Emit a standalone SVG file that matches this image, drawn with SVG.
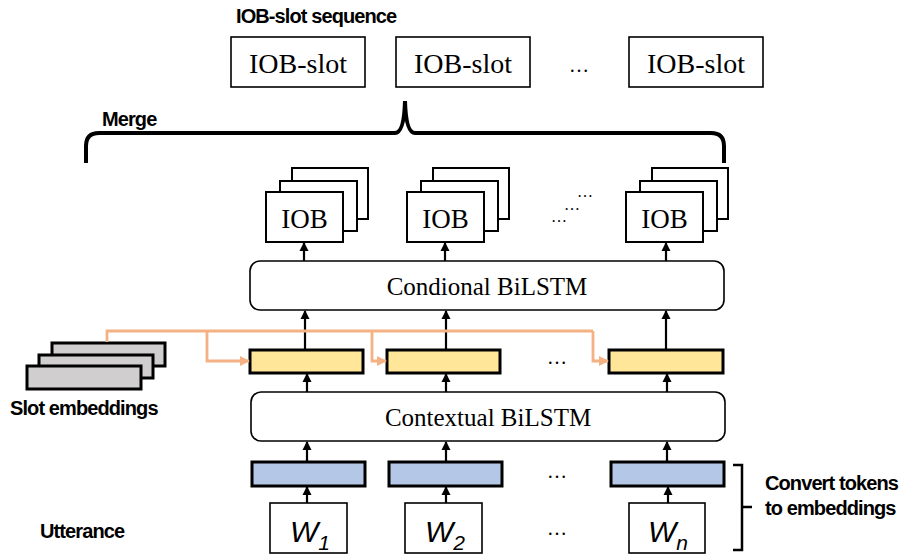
<svg xmlns="http://www.w3.org/2000/svg" width="903" height="555" viewBox="0 0 903 555">
<style>
.lbl{font-family:"Liberation Sans",Arial,sans-serif;font-weight:bold;font-size:20px;letter-spacing:-0.9px;fill:#000}
.ser{font-family:"Liberation Serif","Times New Roman",serif;fill:#000}
.box{fill:#fff;stroke:#000;stroke-width:1.6}
.stk{fill:#fff;stroke:#000;stroke-width:2}
.yel{fill:#FFE699;stroke:#000;stroke-width:3}
.blu{fill:#B4C7E7;stroke:#000;stroke-width:3}
.gry{fill:#D0CECE;stroke:#000;stroke-width:3}
.rnd{fill:#fff;stroke:#000;stroke-width:1.6}
.arr{stroke:#000;stroke-width:2.2;fill:none;marker-end:url(#ah)}
.org{stroke:#F4B183;stroke-width:2.8;fill:none}
.orga{stroke:#F4B183;stroke-width:2.8;fill:none;marker-end:url(#oh)}
.w{font-family:"Liberation Sans",Arial,sans-serif;font-style:italic;fill:#000}
</style>
<defs>
<marker id="ah" markerWidth="10" markerHeight="10" refX="8" refY="5" orient="auto" markerUnits="userSpaceOnUse">
<path d="M0,0.5 L9,5 L0,9.5 Z" fill="#000"/>
</marker>
<marker id="oh" markerWidth="10" markerHeight="12" refX="9" refY="6" orient="auto" markerUnits="userSpaceOnUse">
<path d="M0,1 L10,6 L0,11 Z" fill="#F4B183"/>
</marker>
</defs>

<text class="lbl" x="236" y="23">IOB-slot sequence</text>
<text class="lbl" x="102" y="126">Merge</text>
<text class="lbl" x="10" y="415">Slot embeddings</text>
<text class="lbl" x="40" y="538">Utterance</text>
<text class="lbl" x="765" y="490">Convert tokens</text>
<text class="lbl" x="765" y="515">to embeddings</text>

<g id="slot1"><rect class="box" x="231" y="37" width="134" height="50"/><text class="ser" x="298" y="73" font-size="28" text-anchor="middle">IOB-slot</text></g>
<g id="slot2"><rect class="box" x="396" y="37" width="134" height="50"/><text class="ser" x="463" y="73" font-size="28" text-anchor="middle">IOB-slot</text></g>
<g id="slot3"><rect class="box" x="629" y="37" width="134" height="50"/><text class="ser" x="696" y="73" font-size="28" text-anchor="middle">IOB-slot</text></g>
<text class="ser" x="579" y="72" font-size="20" text-anchor="middle">…</text>

<g id="iob1">
<rect class="stk" x="292" y="168" width="76" height="51"/>
<rect class="stk" x="280" y="181" width="77" height="50"/>
<rect class="stk" x="266" y="192" width="77" height="50"/>
<text class="ser" x="304.5" y="228" font-size="27" text-anchor="middle">IOB</text>
</g>
<g id="iob2">
<rect class="stk" x="433" y="168" width="76" height="51"/>
<rect class="stk" x="421" y="181" width="77" height="50"/>
<rect class="stk" x="407" y="192" width="77" height="50"/>
<text class="ser" x="445.5" y="228" font-size="27" text-anchor="middle">IOB</text>
</g>
<g id="iob3">
<rect class="stk" x="652" y="168" width="76" height="51"/>
<rect class="stk" x="640" y="181" width="77" height="50"/>
<rect class="stk" x="626" y="192" width="77" height="50"/>
<text class="ser" x="664.5" y="228" font-size="27" text-anchor="middle">IOB</text>
</g>
<text class="ser" x="559" y="222" font-size="16" text-anchor="middle">…</text>
<text class="ser" x="572" y="210" font-size="16" text-anchor="middle">…</text>
<text class="ser" x="585" y="197" font-size="16" text-anchor="middle">…</text>

<g id="cond"><rect class="rnd" x="250" y="261" width="474" height="49" rx="10"/><text class="ser" x="487" y="295" font-size="25" text-anchor="middle">Condional BiLSTM</text></g>

<g id="slotemb">
<rect class="gry" x="52" y="343" width="113" height="23"/>
<rect class="gry" x="39" y="355" width="114" height="23"/>
<rect class="gry" x="27" y="366" width="114" height="23"/>
</g>

<g id="y1"><rect class="yel" x="250" y="350" width="113" height="23"/></g>
<g id="y2"><rect class="yel" x="387" y="350" width="113" height="23"/></g>
<g id="y3"><rect class="yel" x="609" y="350" width="114" height="23"/></g>
<text class="ser" x="557" y="364" font-size="20" text-anchor="middle">…</text>

<g id="ctx"><rect class="rnd" x="251" y="392" width="474" height="49" rx="10"/><text class="ser" x="488" y="426" font-size="25" text-anchor="middle">Contextual BiLSTM</text></g>

<g id="b1"><rect class="blu" x="252" y="462" width="113" height="24"/></g>
<g id="b2"><rect class="blu" x="389" y="462" width="113" height="24"/></g>
<g id="b3"><rect class="blu" x="611" y="462" width="113" height="24"/></g>
<text class="ser" x="557" y="478" font-size="20" text-anchor="middle">…</text>

<g id="w1"><rect class="box" x="270" y="503" width="77" height="50"/><text class="w" x="290" y="542" font-size="30">W<tspan font-size="21" dy="8">1</tspan></text></g>
<g id="w2"><rect class="box" x="405" y="503" width="77" height="50"/><text class="w" x="425" y="542" font-size="30">W<tspan font-size="21" dy="8">2</tspan></text></g>
<g id="w3"><rect class="box" x="629" y="503" width="76" height="50"/><text class="w" x="648" y="542" font-size="30">W<tspan font-size="21" dy="8">n</tspan></text></g>
<text class="ser" x="557" y="535" font-size="20" text-anchor="middle">…</text>

<g id="connectors">
<path d="M86,163 L86,146 Q86,133 99,133 L395,133 Q404,133 405,101 Q406,133 415,133 L711,133 Q724,133 724,146 L724,163" fill="none" stroke="#000" stroke-width="4"/>
<path d="M733,465 L742,465 L742,550 L733,550 M742,507 L752,507" fill="none" stroke="#000" stroke-width="2.5"/>

<line class="arr" x1="304" y1="261" x2="304" y2="243"/>
<line class="arr" x1="445" y1="261" x2="445" y2="243"/>
<line class="arr" x1="666" y1="261" x2="666" y2="243"/>

<line class="arr" x1="305" y1="349" x2="305" y2="311"/>
<line class="arr" x1="446" y1="349" x2="446" y2="311"/>
<line class="arr" x1="666" y1="349" x2="666" y2="311"/>

<line class="arr" x1="307" y1="392" x2="307" y2="374"/>
<line class="arr" x1="446" y1="392" x2="446" y2="374"/>
<line class="arr" x1="667" y1="392" x2="667" y2="374"/>

<line class="arr" x1="307" y1="462" x2="307" y2="442"/>
<line class="arr" x1="446" y1="462" x2="446" y2="442"/>
<line class="arr" x1="667" y1="462" x2="667" y2="442"/>

<line class="arr" x1="307" y1="503" x2="307" y2="487"/>
<line class="arr" x1="446" y1="503" x2="446" y2="487"/>
<line class="arr" x1="668" y1="503" x2="668" y2="487"/>

<path class="org" d="M107,342 L107,331 L593,331"/>
<path class="orga" d="M207,331 L207,361 L249,361"/>
<path class="orga" d="M372,331 L372,361 L386,361"/>
<path class="orga" d="M593,331 L593,361 L608,361"/>
</g>
</svg>
